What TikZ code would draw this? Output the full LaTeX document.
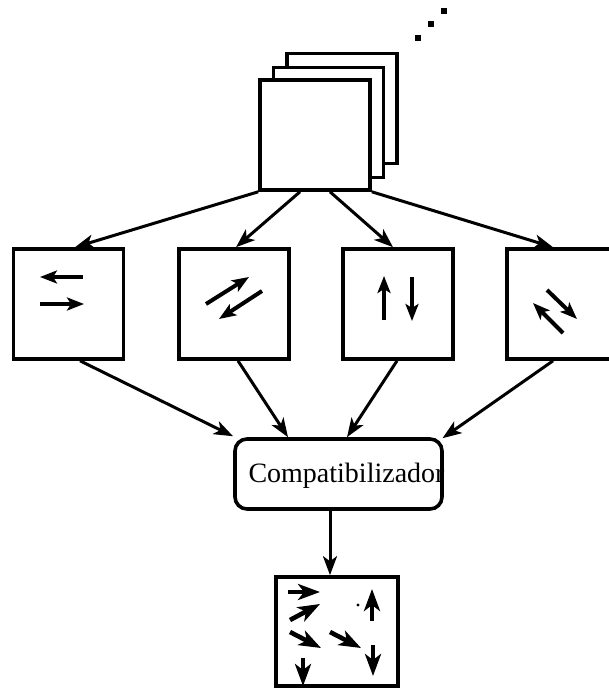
\documentclass[tikz,border=0pt]{standalone}
\usepackage{fontspec}
\setmainfont{Liberation Serif}
\usetikzlibrary{arrows.meta,calc}
\begin{document}
\begin{tikzpicture}[x=0.5pt,y=-0.5pt,
  frame/.style={draw,line width=1.8pt,fill=white,inner sep=0pt,minimum width=55pt,minimum height=55pt},
  conn/.style={line width=1.5pt,-{Stealth[length=9.5pt,width=7pt,inset=2.5pt]}},
  glyph/.style={line width=2pt,-{Stealth[length=8.5pt,width=6.5pt,inset=2pt]}},
  fat/.style={line width=2.3pt,-{Stealth[length=11pt,width=8pt,inset=3pt]}},
  dot/.style={fill=black,inner sep=0pt,minimum size=3pt}
]
\useasboundingbox (0,0) rectangle (608,688);

% stack of frames
\node[frame] (back) at (342,108.5) {};
\node[frame] (mid) at (328.5,122.5) {};
\node[frame] (front) at (315,135) {};
\node[dot] (d1) at (444,11) {};
\node[dot] (d2) at (431,24) {};
\node[dot] (d3) at (418,38) {};

% direction filters
\node[frame] (b1) at (68.5,304) {};
\node[frame] (b2) at (234,304) {};
\node[frame] (b3) at (398,304) {};
\node[frame] (b4) at (562,304) {};

% combiner
\node[draw,line width=1.8pt,rounded corners=6pt,minimum width=103.5pt,minimum height=35pt] (compat) at (338.5,474) {};
\node[anchor=base,font=\fontsize{14pt}{16pt}\selectfont,inner sep=0pt] (ctext) at (346.5,482) {Compatibilizador};

% result
\node[frame,minimum width=61pt,minimum height=54.5pt] (res) at (337,631.5) {};

% connectors
\draw[conn] (front.south west) -- ($(b1.north)+(6.5,0)$);
\draw[conn] ($(front.south)+(-15,0)$) -- ($(b2.north)+(2,0)$);
\draw[conn] ($(front.south)+(15,0)$) -- ($(b3.north)+(-5,0)$);
\draw[conn] (front.south east) -- ($(b4.north)+(-9,0)$);

\draw[conn] ($(b1.south)+(11.5,0)$) -- ($(compat.north)+(-105.5,-1)$);
\draw[conn] ($(b2.south)+(4,0)$) -- ($(compat.north)+(-50.5,0)$);
\draw[conn] ($(b3.south)+(-1,0)$) -- ($(compat.north)+(8.5,0)$);
\draw[conn] ($(b4.south)+(-9,0)$) -- ($(compat.north)+(104,1)$);

\draw[conn] ($(compat.south)+(-8.5,0)$) -- ($(res.north)+(-7,0)$);

% motion glyphs
\draw[glyph] (83,277) -- (40,277);
\draw[glyph] (40,304) -- (84,304);

\draw[glyph] (206,304) -- (249,277);
\draw[glyph] (262,291) -- (219,319);

\draw[glyph] (384,320) -- (384,276);
\draw[glyph] (412,277) -- (412,321);

\draw[glyph] (547,290) -- (577,319);
\draw[glyph] (563,333) -- (533,303);

\draw[fat] (288,592) -- (320,592);
\draw[fat] (290,620) -- (320,604);
\draw[fat] (290,632) -- (321,648);
\draw[fat] (330,632) -- (361,648);
\draw[fat] (372,621) -- (372,589);
\draw[fat] (373,645) -- (373,676);
\draw[fat] (303,658) -- (303,686);
\fill (358,605) circle (0.8pt);
\end{tikzpicture}
\end{document}
